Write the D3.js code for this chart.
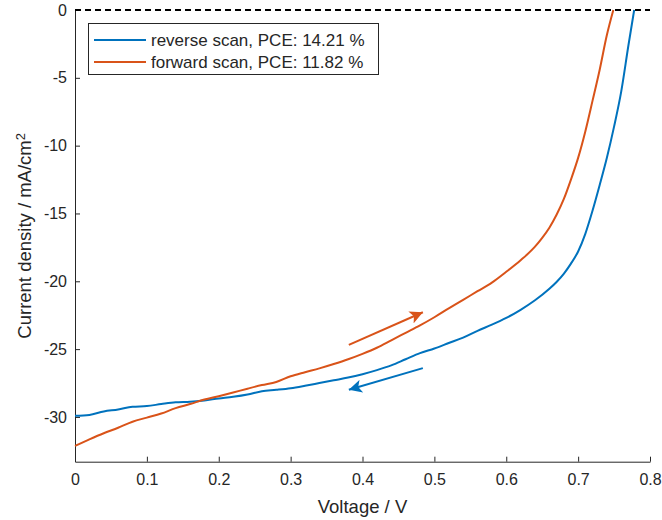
<!DOCTYPE html>
<html>
<head>
<meta charset="utf-8">
<script src="https://cdn.jsdelivr.net/npm/d3@7"></script>
<style>
  body { margin: 0; background: #fff; }
  svg { display: block; font-family: Arial, "Liberation Sans", Helvetica, sans-serif; }
</style>
</head>
<body>
<svg id="chart" width="662" height="520"></svg>
<script>
// reverse scan (Voc -> 0)
const reverseV = [0, 0.02, 0.04, 0.06, 0.08, 0.10, 0.12, 0.14, 0.16, 0.18, 0.20, 0.22, 0.24, 0.26, 0.28,
  0.30, 0.32, 0.34, 0.36, 0.38, 0.40, 0.42, 0.44, 0.46, 0.48, 0.50, 0.52, 0.54, 0.56, 0.58, 0.60,
  0.62, 0.64, 0.66, 0.67, 0.68, 0.69, 0.70, 0.71, 0.72, 0.73, 0.74, 0.75, 0.76, 0.77, 0.778];
const reverseJ = [-29.92, -29.85, -29.6, -29.45, -29.25, -29.2, -29.05, -28.92, -28.88, -28.78, -28.64,
  -28.52, -28.35, -28.1, -28.0, -27.88, -27.7, -27.5, -27.3, -27.1, -26.85, -26.55, -26.2, -25.75,
  -25.3, -24.95, -24.55, -24.15, -23.65, -23.2, -22.7, -22.1, -21.4, -20.55, -20.05, -19.45, -18.7,
  -17.8, -16.5, -14.8, -12.9, -10.9, -8.6, -6.0, -2.6, 0];

// forward scan (0 -> Voc)
const forwardV = [0, 0.02, 0.04, 0.06, 0.08, 0.10, 0.12, 0.14, 0.16, 0.18, 0.20, 0.22, 0.24, 0.26, 0.28,
  0.30, 0.32, 0.34, 0.36, 0.38, 0.40, 0.42, 0.44, 0.46, 0.48, 0.50, 0.52, 0.54, 0.56, 0.58, 0.60,
  0.62, 0.64, 0.65, 0.66, 0.67, 0.68, 0.69, 0.70, 0.71, 0.72, 0.73, 0.74, 0.749];
const forwardJ = [-32.13, -31.65, -31.2, -30.8, -30.35, -30.05, -29.75, -29.35, -29.05, -28.72, -28.47,
  -28.2, -27.92, -27.65, -27.42, -27.0, -26.7, -26.42, -26.1, -25.75, -25.35, -24.9, -24.35, -23.8,
  -23.25, -22.65, -22.0, -21.37, -20.73, -20.1, -19.3, -18.45, -17.45, -16.8, -16.05, -15.1, -13.95,
  -12.5, -10.9, -8.95, -6.7, -4.4, -1.85, 0];

const seriesNames = ['reverse scan, PCE: 14.21 %', 'forward scan, PCE: 11.82 %'];
const xTicks = [0, 0.1, 0.2, 0.3, 0.4, 0.5, 0.6, 0.7, 0.8];
const yTicks = [0, -5, -10, -15, -20, -25, -30];

// scan direction arrows, [x1, y1, x2, y2] in data units
const forwardArrow = [0.381, -24.69, 0.484, -22.28];
const reverseArrow = [0.484, -26.40, 0.381, -28.0];

const blue = '#0072BD', orange = '#D95319', axisColor = '#262626';

const svg = d3.select('#chart');
const plotL = 75, plotR = 650, plotT = 10, plotB = 461.7;

const x = d3.scaleLinear().domain([0, 0.8]).range([plotL, plotR]);
const y = d3.scaleLinear().domain([-33.3, 0]).range([plotB, plotT]);

svg.append('defs').selectAll('marker')
  .data([['head-blue', blue], ['head-orange', orange]])
  .join('marker')
  .attr('id', d => d[0])
  .attr('viewBox', '0 -5 10 10')
  .attr('refX', 10)
  .attr('refY', 0)
  .attr('markerUnits', 'userSpaceOnUse')
  .attr('markerWidth', 15)
  .attr('markerHeight', 13)
  .attr('orient', 'auto')
  .append('path')
  .attr('d', 'M0,-5 L10,0 L0,5 L2.5,0 Z')
  .attr('fill', d => d[1]);

// axes
const xAxis = svg.append('g')
  .attr('transform', `translate(0,${plotB})`)
  .call(d3.axisBottom(x).tickValues(xTicks)
    .tickFormat(d => d === 0 ? '0' : d3.format('.1f')(d))
    .tickSizeInner(-5).tickSizeOuter(0).tickPadding(12));

const yAxis = svg.append('g')
  .attr('transform', `translate(${plotL},0)`)
  .call(d3.axisLeft(y).tickValues(yTicks)
    .tickFormat(d => String(d))
    .tickSizeInner(-5).tickSizeOuter(0).tickPadding(8));

[xAxis, yAxis].forEach(g => {
  g.selectAll('path, line').attr('stroke', axisColor).attr('stroke-width', 1);
  g.selectAll('text').attr('fill', axisColor).style('font-size', '16px')
    .style('font-family', 'Arial, "Liberation Sans", sans-serif');
});

// zero line
svg.append('line')
  .attr('x1', x(0)).attr('x2', x(0.8))
  .attr('y1', y(0)).attr('y2', y(0))
  .attr('stroke', '#000')
  .attr('stroke-width', 2)
  .attr('stroke-dasharray', '6,4');

const line = d3.line()
  .curve(d3.curveMonotoneX)
  .x(d => x(d[0]))
  .y(d => y(d[1]));

svg.append('path')
  .datum(d3.zip(reverseV, reverseJ))
  .attr('d', line)
  .attr('fill', 'none')
  .attr('stroke', blue)
  .attr('stroke-width', 2);

svg.append('path')
  .datum(d3.zip(forwardV, forwardJ))
  .attr('d', line)
  .attr('fill', 'none')
  .attr('stroke', orange)
  .attr('stroke-width', 2);

// arrows
[[forwardArrow, orange, 'head-orange'], [reverseArrow, blue, 'head-blue']].forEach(([a, c, m]) => {
  svg.append('line')
    .attr('x1', x(a[0])).attr('y1', y(a[1]))
    .attr('x2', x(a[2])).attr('y2', y(a[3]))
    .attr('stroke', c)
    .attr('stroke-width', 2)
    .attr('marker-end', `url(#${m})`);
});

// axis labels
svg.append('text')
  .attr('x', (plotL + plotR) / 2)
  .attr('y', 513)
  .attr('text-anchor', 'middle')
  .attr('fill', axisColor)
  .style('font-size', '18.5px')
  .text('Voltage / V');

const yl = svg.append('text')
  .attr('transform', `translate(31,${(plotT + plotB) / 2}) rotate(-90)`)
  .attr('text-anchor', 'middle')
  .attr('fill', axisColor)
  .style('font-size', '18.5px');
yl.append('tspan').text('Current density / mA/cm');
yl.append('tspan').attr('dy', '-0.45em').style('font-size', '13px').text('2');

// legend
const legend = svg.append('g');
legend.append('rect')
  .attr('x', 88.5).attr('y', 23.5)
  .attr('width', 290).attr('height', 51)
  .attr('fill', '#fff')
  .attr('stroke', axisColor)
  .attr('stroke-width', 1);

const rows = legend.selectAll('g.row')
  .data(seriesNames.map((n, i) => ({ name: n, color: [blue, orange][i] })))
  .join('g')
  .attr('class', 'row')
  .attr('transform', (d, i) => `translate(0,${40 + i * 22})`);

rows.append('line')
  .attr('x1', 94).attr('x2', 146)
  .attr('stroke', d => d.color)
  .attr('stroke-width', 2);

rows.append('text')
  .attr('x', 151)
  .attr('dy', '0.35em')
  .attr('fill', axisColor)
  .style('font-size', '17px')
  .text(d => d.name);
</script>
</body>
</html>
